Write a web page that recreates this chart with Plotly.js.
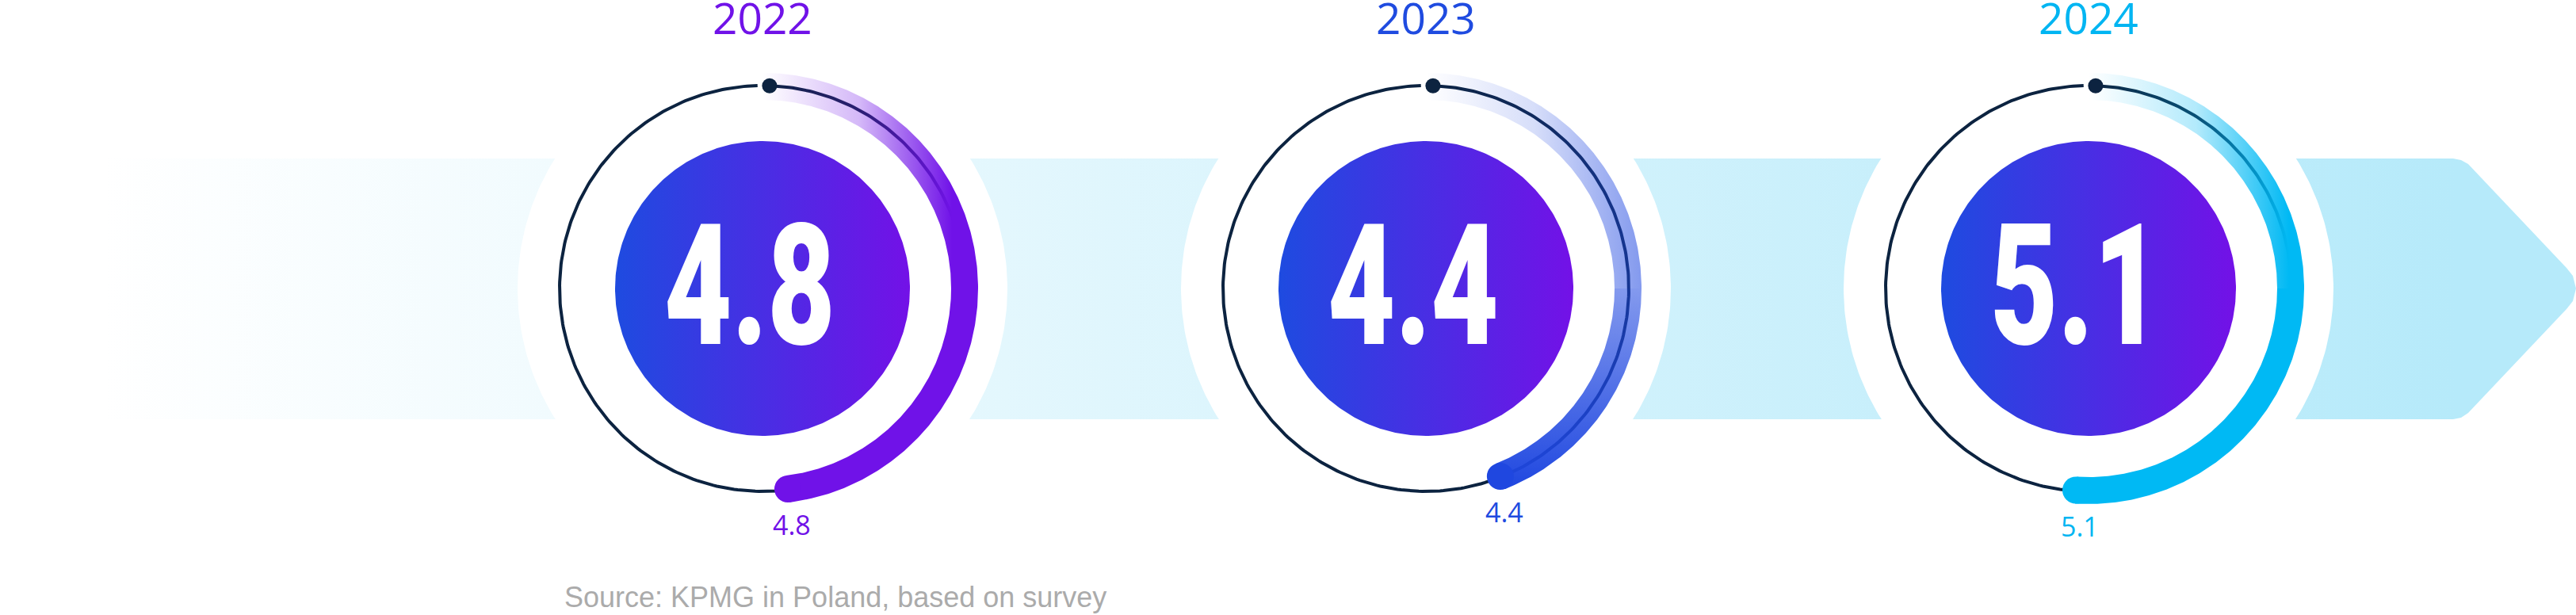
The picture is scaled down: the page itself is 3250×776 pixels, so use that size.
<!DOCTYPE html>
<html>
<head>
<meta charset="utf-8">
<script src="https://cdn.plot.ly/plotly-3.0.1.min.js"></script>
<style>
html,body{margin:0;padding:0;background:#ffffff;}
#chart{width:3250px;height:776px;}
/* condense the big centre figures (no narrow cut of Roboto is installed) */
text.annotation-text[style*="214px"]{transform-box:fill-box;transform-origin:50% 50%;transform:scaleX(0.69);}
</style>
</head>
<body>
<div id="chart"></div>
<script>
// ---------------- data ----------------
const years = ['2022', '2023', '2024'];
const values = [4.8, 4.4, 5.1];
const scaleMax = 10;
const sourceText = 'Source: KPMG in Poland, based on survey';

// ---------------- style / layout constants ----------------
const W = 3250, H = 776;
const centersX = [962, 1799, 2635];
const cy = 364;
const accentRGB = [[112, 18, 232], [31, 71, 224], [0, 185, 244]];
const yearColors = ['#7012E8', '#1F4BE0', '#00B5F2'];
const grad1 = [
  [[0, 0], [0.45, 0.3], [0.88, 1], [1, 1]],
  [[0, 0], [0.5, 0.18], [1, 0.55]],
  [[0, 0], [0.5, 0.3], [0.93, 1], [1, 1]]
];
const grad2 = [
  [[0, 1], [1, 1]],
  [[0, 0.55], [1, 1]],
  [[0, 1], [1, 1]]
];
const navy = '#0C2340';
const rThin = 256, rIn = 238, rOut = 272, rMid = 255, rDisc = 186, rCut = 309;
const bandRGB = '182,234,250';

function pt(cx, r, deg) {
  const a = deg * Math.PI / 180;
  return [cx + r * Math.sin(a), cy - r * Math.cos(a)];
}
function arcLine(cx, r, a0, a1, step) {
  const xs = [], ys = [];
  const n = Math.max(2, Math.ceil(Math.abs(a1 - a0) / step));
  for (let i = 0; i <= n; i++) {
    const p = pt(cx, r, a0 + (a1 - a0) * i / n);
    xs.push(p[0]); ys.push(p[1]);
  }
  return [xs, ys];
}
function annulus(cx, a0, a1) {
  const o = arcLine(cx, rOut, a0, a1, 0.5);
  const i = arcLine(cx, rIn, a1, a0, 0.5);
  const xs = o[0].concat(i[0]); const ys = o[1].concat(i[1]);
  xs.push(o[0][0]); ys.push(o[1][0]);
  return [xs, ys];
}
function rgba(c, a) { return 'rgba(' + c[0] + ',' + c[1] + ',' + c[2] + ',' + a + ')'; }
function scale(c, stops) { return stops.map(s => [s[0], rgba(c, s[1])]); }

const traces = [];

// background band with arrow tip
const bandX = [40, 3095, 3105, 3114, 3238, 3246, 3250, 3246, 3238, 3114, 3105, 3095, 40, 40];
const bandY = [200, 200, 202, 207, 338, 348, 364, 380, 390, 521, 527, 529, 529, 200];
traces.push({
  type: 'scatter', mode: 'lines', x: bandX, y: bandY, fill: 'toself',
  line: {width: 0, color: 'rgba(0,0,0,0)'}, hoverinfo: 'skip',
  fillcolor: 'rgba(' + bandRGB + ',0.6)',
  fillgradient: {type: 'horizontal', start: 130, stop: 3100,
    colorscale: [[0, 'rgba(' + bandRGB + ',0)'], [1, 'rgba(' + bandRGB + ',1)']]}
});

// white cut-out discs
centersX.forEach(cx => {
  const c = arcLine(cx, rCut, 0, 360, 1);
  traces.push({type: 'scatter', mode: 'lines', x: c[0], y: c[1], fill: 'toself',
    fillcolor: '#ffffff', line: {width: 0, color: 'rgba(0,0,0,0)'}, hoverinfo: 'skip'});
});

const annotations = [];

years.forEach((yr, k) => {
  const cx = centersX[k];
  const endA = values[k] / scaleMax * 360;
  const col = accentRGB[k];

  // track circle
  const tc = arcLine(cx, rThin, 2.5, 358.6, 1);
  traces.push({type: 'scatter', mode: 'lines', x: tc[0], y: tc[1],
    line: {width: 4, color: navy}, hoverinfo: 'skip'});

  // value arc: first quarter with horizontal fade
  const a1 = Math.min(90, endA);
  const p1 = annulus(cx, 0, a1);
  traces.push({type: 'scatter', mode: 'lines', x: p1[0], y: p1[1], fill: 'toself',
    line: {width: 0, color: 'rgba(0,0,0,0)'}, hoverinfo: 'skip',
    fillcolor: rgba(col, 0.5),
    fillgradient: {type: 'horizontal', start: cx, stop: cx + rOut, colorscale: scale(col, grad1[k])}});

  // value arc: rest
  if (endA > 90) {
    const p2 = annulus(cx, 90, endA);
    const yMax = Math.max.apply(null, p2[1]);
    traces.push({type: 'scatter', mode: 'lines', x: p2[0], y: p2[1], fill: 'toself',
      line: {width: 0, color: 'rgba(0,0,0,0)'}, hoverinfo: 'skip',
      fillcolor: rgba(col, 1),
      fillgradient: {type: 'vertical', start: cy, stop: yMax, colorscale: scale(col, grad2[k])}});
  }

  // rounded end cap
  const e = pt(cx, rMid, endA);
  traces.push({type: 'scatter', mode: 'markers', x: [e[0]], y: [e[1]],
    marker: {size: 34, color: rgba(col, 1), line: {width: 0}}, hoverinfo: 'skip'});

  // start dot
  const d = pt(cx, rThin, 2);
  traces.push({type: 'scatter', mode: 'markers', x: [d[0]], y: [d[1]],
    marker: {size: 19, color: navy, line: {width: 0}}, hoverinfo: 'skip'});

  // inner disc
  const dc = arcLine(cx, rDisc, 0, 360, 1);
  traces.push({type: 'scatter', mode: 'lines', x: dc[0], y: dc[1], fill: 'toself',
    line: {width: 0, color: 'rgba(0,0,0,0)'}, hoverinfo: 'skip', fillcolor: '#4A2EE4',
    fillgradient: {type: 'horizontal', colorscale: [[0, '#1E4BE0'], [1, '#7311E7']]}});

  annotations.push({x: cx - 16, y: cy - 4, xref: 'x', yref: 'y', showarrow: false,
    xanchor: 'center', yanchor: 'middle', text: values[k].toFixed(1),
    font: {family: 'Roboto, sans-serif', size: 214, color: '#ffffff', weight: 900}});
  annotations.push({x: cx, y: 21, xref: 'x', yref: 'y', showarrow: false,
    xanchor: 'center', yanchor: 'middle', text: yr,
    font: {family: 'Open Sans, Noto Sans, sans-serif', size: 55, color: yearColors[k], weight: 500}});
  annotations.push({x: e[0] + 5, y: e[1] + 45, xref: 'x', yref: 'y', showarrow: false,
    xanchor: 'center', yanchor: 'middle', text: values[k].toFixed(1),
    font: {family: 'Open Sans, Noto Sans, sans-serif', size: 34, color: yearColors[k]}});
});

annotations.push({x: 710, y: 753, xref: 'x', yref: 'y', showarrow: false,
  xanchor: 'left', yanchor: 'middle', text: sourceText,
  font: {family: 'Liberation Sans, Arial, sans-serif', size: 36, color: '#ABABAB'}});

const layout = {
  width: W, height: H,
  margin: {l: 0, r: 0, t: 0, b: 0, pad: 0},
  paper_bgcolor: '#ffffff', plot_bgcolor: '#ffffff',
  showlegend: false,
  xaxis: {range: [0, W], visible: false, fixedrange: true},
  yaxis: {range: [H, 0], visible: false, fixedrange: true},
  annotations: annotations
};

Plotly.newPlot('chart', traces, layout, {staticPlot: true, displayModeBar: false});
</script>
</body>
</html>
